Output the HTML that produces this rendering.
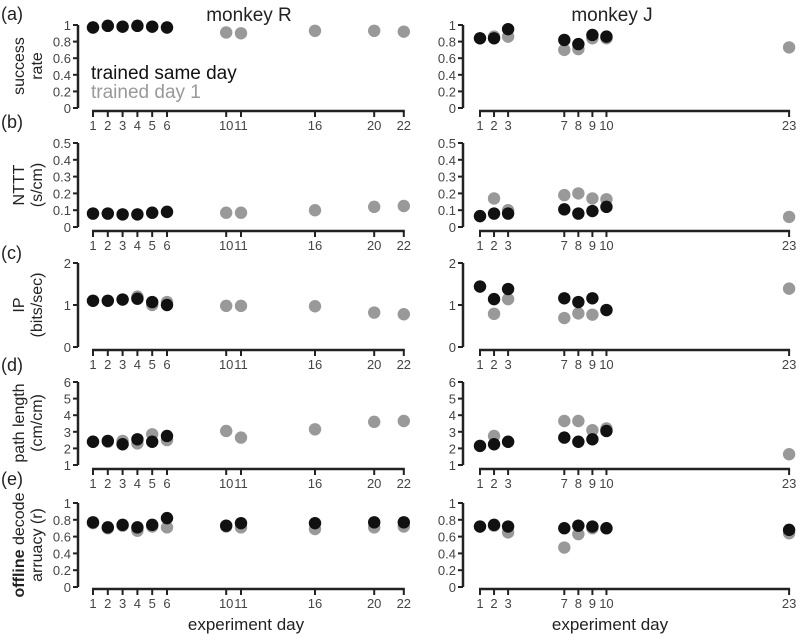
<!DOCTYPE html>
<html><head><meta charset="utf-8"><style>
html,body{margin:0;padding:0;background:#fff;width:800px;height:636px;overflow:hidden}
svg{font-family:"Liberation Sans",Arial,sans-serif}
</style></head><body>
<svg id="c" width="800" height="636"></svg>
<script>
const daysR=[1,2,3,4,5,6,10,11,16,20,22];
const daysJ=[1,2,3,7,8,9,10,23];
// monkey R
const rA_black=[.97,.99,.98,.99,.98,.97,null,null,null,null,null];
const rA_gray=[.97,.99,.98,.99,.98,.97,.91,.90,.93,.93,.92];
const rB_black=[.08,.08,.075,.075,.085,.09,null,null,null,null,null];
const rB_gray=[.08,.08,.075,.075,.085,.09,.085,.085,.1,.12,.125];
const rC_black=[1.1,1.1,1.13,1.15,1.07,1.0,null,null,null,null,null];
const rC_gray=[1.1,1.1,1.13,1.2,1.0,1.07,.98,.98,.97,.82,.78];
const rD_black=[2.4,2.45,2.25,2.55,2.4,2.75,null,null,null,null,null];
const rD_gray=[2.4,2.4,2.45,2.3,2.85,2.5,3.05,2.65,3.15,3.6,3.65];
const rE_black=[.77,.71,.74,.71,.74,.82,.73,.76,.76,.77,.77];
const rE_gray=[.76,.70,.73,.67,.72,.71,.72,.71,.69,.71,.72];
// monkey J
const jA_black=[.84,.84,.95,.82,.77,.88,.86,null];
const jA_gray=[.84,.86,.86,.70,.71,.84,.84,.73];
const jB_black=[.065,.08,.08,.105,.08,.095,.12,null];
const jB_gray=[.065,.17,.10,.19,.2,.17,.165,.06];
const jC_black=[1.44,1.14,1.38,1.16,1.07,1.16,.88,null];
const jC_gray=[1.44,.79,1.14,.69,.8,.77,.88,1.39];
const jD_black=[2.15,2.25,2.4,2.65,2.4,2.55,3.05,null];
const jD_gray=[2.15,2.75,2.4,3.65,3.65,3.1,3.2,1.65];
const jE_black=[.72,.74,.72,.70,.73,.72,.70,.68];
const jE_gray=[.72,.73,.65,.47,.63,.70,.70,.64];
const ticksA=["0","0.2","0.4","0.6","0.8","1"];
const ticksB=["0","0.1","0.2","0.3","0.4","0.5"];
const ticksC=["0","1","2"];
const ticksD=["1","2","3","4","5","6"];
const ticksE=["0","0.2","0.4","0.6","0.8","1"];

const NS="http://www.w3.org/2000/svg";
const svg=document.getElementById('c');
function mk(tag,attrs,parent){const e=document.createElementNS(NS,tag);for(const k in attrs)e.setAttribute(k,attrs[k]);(parent||svg).appendChild(e);return e;}
function txt(s,attrs,parent){const e=mk('text',attrs,parent);e.textContent=s;return e;}

const rows=[
 {top:25,bot:108,ax:111,min:0,max:1,ticks:ticksA,R:[rA_gray,rA_black],J:[jA_gray,jA_black],name:'success-rate'},
 {top:143,bot:227,ax:231,min:0,max:.5,ticks:ticksB,R:[rB_gray,rB_black],J:[jB_gray,jB_black],name:'nttt'},
 {top:263,bot:347,ax:350,min:0,max:2,ticks:ticksC,R:[rC_gray,rC_black],J:[jC_gray,jC_black],name:'ip'},
 {top:382,bot:465,ax:469,min:1,max:6,ticks:ticksD,R:[rD_gray,rD_black],J:[jD_gray,jD_black],name:'path-length'},
 {top:503,bot:587,ax:589,min:0,max:1,ticks:ticksE,R:[rE_gray,rE_black],J:[jE_gray,jE_black],name:'decode-accuracy'}
];
const panels=[
 {key:'R',yaxX:78,x0:93,dx:14.8,days:daysR},
 {key:'J',yaxX:463,x0:480,dx:14.05,days:daysJ}
];
rows.forEach((r,ri)=>{
 const yS=v=>r.bot-(v-r.min)/(r.max-r.min)*(r.bot-r.top);
 panels.forEach(p=>{
  const xS=d=>p.x0+(d-1)*p.dx;
  const g=mk('g',{});
  
  
  const ya=mk('line',{x1:p.yaxX,x2:p.yaxX,y1:r.top,y2:r.bot,stroke:'#222','stroke-width':2.5},g);
  
  
  r.ticks.forEach(t=>{
   const y=yS(parseFloat(t));
   mk('line',{x1:p.yaxX-5,x2:p.yaxX,y1:y,y2:y,stroke:'#222','stroke-width':2},g);
   const tl=txt(t,{x:p.yaxX-7,y:y+5,'text-anchor':'end','font-size':13,fill:'#444'},g);
   
   
  });
  const last=p.days[p.days.length-1];
  const xa=mk('line',{x1:xS(1)-1,x2:xS(last)+1,y1:r.ax,y2:r.ax,stroke:'#222','stroke-width':2.5},g);
  
  
  p.days.forEach(d=>{
   const x=xS(d);
   mk('line',{x1:x,x2:x,y1:r.ax,y2:r.ax+6,stroke:'#222','stroke-width':2},g);
   const tl=txt(String(d),{x:x,y:r.ax+19,'text-anchor':'middle','font-size':13,fill:'#444'},g);
   
   
  });
  const series=r[p.key];
  [['#999',series[0],'trained-day-1'],['#111',series[1],'trained-same-day']].forEach(([col,vals,nm])=>{
   vals.forEach((v,i)=>{
    if(v===null)return;
    const c=mk('circle',{cx:xS(p.days[i]),cy:yS(v),r:6.2,fill:col},g);
    
    
   });
  });
 });
});
</script>
<script>
(function(){
const NS="http://www.w3.org/2000/svg";const svg=document.getElementById('c');
function t(s,a,name){const e=document.createElementNS(NS,'text');for(const k in a)e.setAttribute(k,a[k]);e.innerHTML=s;


svg.appendChild(e);return e;}
t('monkey R',{x:249,y:21,'text-anchor':'middle','font-size':19,fill:'#222'},'title-monkey-r');
t('monkey J',{x:612,y:21,'text-anchor':'middle','font-size':19,fill:'#222'},'title-monkey-j');
t('trained same day',{x:91,y:79,'font-size':19,fill:'#111'},'legend-same-day');
t('trained day 1',{x:91,y:98,'font-size':19,fill:'#999'},'legend-day-1');
const letters=[['(a)',20],['(b)',128],['(c)',259],['(d)',371],['(e)',485]];
letters.forEach(([s,y])=>t(s,{x:1,y:y,'font-size':18,fill:'#222'},'panel-label'));
const ylab=[[['success','rate'],66],[['NTTT','(s/cm)'],185],[['IP','(bits/sec)'],305],[['path length','(cm/cm)'],423],[['<tspan font-weight="bold">offline</tspan> decode','arruacy (r)'],545]];
ylab.forEach(([lines,cy])=>{
 t(lines[0],{x:0,y:0,'text-anchor':'middle','font-size':16,fill:'#222',transform:`translate(24,${cy}) rotate(-90)`},'y-axis-title');
 t(lines[1],{x:0,y:0,'text-anchor':'middle','font-size':16,fill:'#222',transform:`translate(42,${cy}) rotate(-90)`},'y-axis-title');
});
t('experiment day',{x:246,y:630,'text-anchor':'middle','font-size':17,fill:'#222'},'x-axis-title-r');
t('experiment day',{x:610,y:630,'text-anchor':'middle','font-size':17,fill:'#222'},'x-axis-title-j');
})();
</script>
</body></html>
